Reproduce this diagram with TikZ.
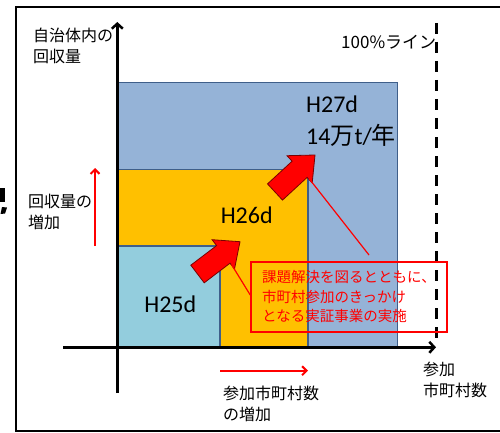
\documentclass[tikz,border=0pt]{standalone}
\usepackage{fontspec}
\setmainfont{Carlito}
\newfontfamily\jp{Noto Sans CJK JP}
\usetikzlibrary{arrows.meta}
\definecolor{areablue}{HTML}{95B3D7}
\definecolor{areaorange}{HTML}{FFC000}
\definecolor{areaaqua}{HTML}{93CDDD}
\definecolor{edgeblue}{HTML}{3F5F8A}
\definecolor{arrowedge}{HTML}{7A0000}
\begin{document}
\begin{tikzpicture}[x=1pt,y=-1pt,
  jlab/.style={font=\jp\fontsize{16}{21}\selectfont, align=left, inner sep=0pt, anchor=west},
  hlab/.style={font=\fontsize{24}{31}\selectfont, inner sep=0pt},
  area/.style={draw=edgeblue, line width=1.2pt},
  axisline/.style={line width=2.5pt, -{Straight Barb[length=5pt,width=11pt]}},
  redarrow/.style={red, line width=2pt, -{Straight Barb[length=4.5pt,width=9pt]}},
  blockarrow/.style={fill=red, draw=arrowedge, line width=0.8pt, line join=miter},
  callout/.style={draw=red, line width=1.5pt, text=red, font=\jp\fontsize{14.5}{19.5}\selectfont,
    align=left, minimum width=196pt, minimum height=70pt, inner sep=0pt},
  leader/.style={red, line width=1.2pt}]
\useasboundingbox (0,0) rectangle (500,433);
\fill[white] (0,0) rectangle (500,433);
% outer frame
\draw[line width=1.8pt] (500,7) -- (16,7) -- (16,431) -- (500,431);
% cut-off glyph at left edge
\fill (0,188) rectangle (4.5,201.5);
\fill (2,207) -- (7,207.5) -- (5,213.5) -- (0.5,214) -- cycle;
% areas
\draw[area, fill=areablue] (117.3,82.7) rectangle (397.7,347.3);
\draw[area, fill=areaorange] (117.3,169.3) rectangle (308,347.3);
\draw[area, fill=areaaqua] (117.3,246) rectangle (220,347.3);
% 100% line
\coordinate (dtop) at (436.7,23);
\coordinate (dbot) at (436.7,346);
\draw[line width=2.5pt, dash pattern=on 11pt off 8pt] (dtop) -- (dbot);
% axes
\coordinate (yb) at (117.3,393);
\coordinate (yt) at (117.3,22);
\coordinate (xl) at (63,347.3);
\coordinate (xr) at (436,347.3);
\draw[axisline] (yb) -- (yt);
\draw[axisline] (xl) -- (xr);
% labels
\node[jlab] (ylab) at (33,46) {自治体内の\\回収量};
\node[jlab] (uplab) at (28,211.5) {回収量の\\増加};
\node[jlab] (rightlab) at (223,403.5) {参加市町村数\\の増加};
\node[jlab] (xlab) at (423,380) {参加\\市町村数};
\node[inner sep=0pt, anchor=west, font=\jp\fontsize{17}{20}\selectfont] (full) at (341,42.5) {100\%ライン};
\node[hlab] (h25) at (170.3,304) {H25d};
\node[hlab] (h26) at (246.7,215) {H26d};
\node[hlab, anchor=west] (h27) at (306,104.5) {H27d};
\node[hlab, anchor=west] (amount) at (306,135.5) {14{\jp 万}t/{\jp 年}};
% red small arrows
\coordinate (ua0) at (95,246);
\coordinate (ua1) at (95,168);
\draw[redarrow] (ua0) -- (ua1);
\coordinate (ra0) at (220,370.7);
\coordinate (ra1) at (308,370.7);
\draw[redarrow] (ra0) -- (ra1);
% block arrows
\draw[blockarrow] (282.5,200.1) -- (307.1,177.4) -- (312.2,182.9) -- (315,155) -- (287.0,155.7) -- (292.1,161.2) -- (267.5,183.9) -- cycle;
\draw[blockarrow] (204.2,282.8) -- (230.0,263.2) -- (234.5,269.1) -- (240,241.7) -- (212.1,239.7) -- (216.6,245.6) -- (190.8,265.2) -- cycle;
\coordinate (bigtail) at (309,178.5);
\coordinate (smalltail) at (231.5,264.5);
% callout
\node[callout] (note) at (349,297) {課題解決を図るとともに、\\市町村参加のきっかけ\\となる実証事業の実施};
\coordinate (noteend) at (369,255);
\draw[leader] (bigtail) -- (noteend);
\draw[leader] (smalltail) -- (note.west |- 0,295);
\end{tikzpicture}
\end{document}
